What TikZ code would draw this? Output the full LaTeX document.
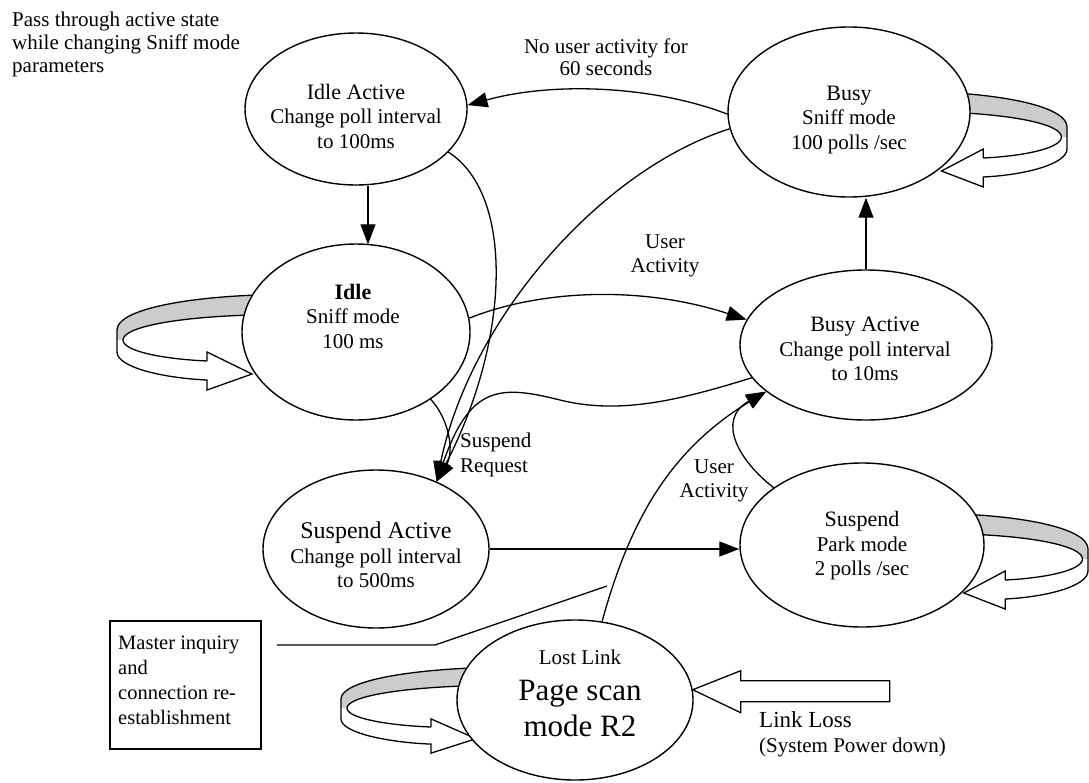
\documentclass[tikz,border=0pt]{standalone}
\usepackage{fontspec}
\setmainfont{Liberation Serif}
\usetikzlibrary{shapes.geometric,arrows.meta,calc}
\newcommand\bodyfs{\fontsize{21}{24.5}\selectfont}
\newcommand\titlefs{\fontsize{22}{24.5}\selectfont}
\newcommand\bigtitlefs{\fontsize{24}{24.5}\selectfont}
\newcommand\pagefs{\fontsize{31}{36}\selectfont}
\newcommand\lossfs{\fontsize{23}{26}\selectfont}
\newcommand\boxfs{\fontsize{20.5}{25}\selectfont}

\begin{document}
\begin{tikzpicture}[x=1pt,y=-1pt,
  state/.style={draw, ellipse, line width=1.4pt, fill=white, inner sep=0pt},
  txt/.style={font=\bodyfs, align=center, inner sep=0pt},
  ltxt/.style={font=\bodyfs, align=left, inner sep=0pt},
  con/.style={line width=1.3pt},
  arr/.style={con, -{Triangle[length=20pt,width=15pt]}},
  band/.style={line width=1.3pt, line join=miter},
  loopband/.pic={
    % grey inner face of the ribbon
    \fill[gray!40] (0,-11) .. controls (0,-30) and (60,-43) .. (140,-46)
      -- (135,-26) .. controls (60,-24) and (6,-14) .. (6,-1) -- (0,-1) -- cycle;
    % outer edge
    \draw[band] (0,11) -- (0,-11) .. controls (0,-30) and (60,-43) .. (140,-46);
    % inner edge running into the upper edge of the shaft
    \draw[band] (135,-26) .. controls (60,-24) and (6,-14) .. (6,-1)
      .. controls (6,10) and (45,18) .. (90,20);
    % lower edge of the shaft and the arrow head
    \draw[band] (0,11) .. controls (0,26) and (45,37) .. (90,39)
      -- (90,49) -- (135,33) -- (90,11) -- (90,20);
  }
]
\useasboundingbox[fill=white] (0,0) rectangle (1089,782);

% self-loops (drawn first, the states cover their ends)
\pic at (117,341) {loopband};
\pic[xscale=-0.93] at (1067,138) {loopband};
\pic[xscale=-0.92] at (1088,560) {loopband};
\pic[yscale=0.9] at (341,709) {loopband};

% states
\node[state, minimum width=222pt, minimum height=152pt] (IA) at (356,109) {};
\node[state, minimum width=228pt, minimum height=176pt] (ID) at (356,332) {};
\node[state, minimum width=242pt, minimum height=170pt] (BU) at (849,112) {};
\node[state, minimum width=252pt, minimum height=150pt] (BA) at (866,345) {};
\node[state, minimum width=226pt, minimum height=158pt] (SA) at (376,549) {};
\node[state, minimum width=244pt, minimum height=164pt] (SU) at (862,545) {};
\node[state, minimum width=236pt, minimum height=160pt] (LL) at (575,700) {};

% state texts
\node[txt] (tIA) at (356,116) {{\titlefs Idle Active}\\Change poll interval\\to 100ms};
\node[txt] (tID) at (353,316) {{\titlefs\bfseries Idle}\\Sniff mode\\100 ms};
\node[txt] (tBU) at (849,120) {{\titlefs Busy}\\Sniff mode\\100 polls /sec};
\node[txt] (tBA) at (865,349) {{\titlefs Busy Active}\\Change poll interval\\to 10ms};
\node[txt] (tSA) at (376,555) {{\bigtitlefs Suspend Active}\\Change poll interval\\to 500ms};
\node[txt] (tSU) at (862,546) {{\titlefs Suspend}\\Park mode\\2 polls /sec};
\node[txt, font=\pagefs] (tLL) at (580,693) {{\fontsize{21}{24}\selectfont Lost Link}\\Page scan\\mode R2};

% free texts
\node[ltxt, anchor=north west, font=\fontsize{21}{23}\selectfont] (note) at (12,12)
  {Pass through active state\\while changing Sniff mode\\parameters};
\node[draw, line width=1.2pt, minimum width=151pt, minimum height=128pt] (box) at (185.5,685) {};
\node[ltxt, anchor=north west, font=\boxfs] (boxtext) at (118,636)
  {Master inquiry\\and\\connection re-\\establishment};

% transitions
\draw[arr] (BU.181) .. controls (660,88) and (560,80) .. (IA.2);
\node[txt, font=\fontsize{21}{22}\selectfont] (lNo) at (606,57) {No user activity for\\60 seconds};

\draw[arr] ($(IA.south)+(12,0)$) -- ($(ID.north)+(12,1)$);
\draw[arr] (BA.north) -- (BA.north |- BU.south);

\draw[arr] (ID.7) .. controls (540,290) and (640,285) .. (BA.168);
\node[txt] (lUA1) at (665,256) {User\\Activity};

\draw[arr] (IA.-25) .. controls (515,195) and (510,340) .. (SA.48);
\draw[arr] (BU.188) .. controls (600,170) and (470,320) .. (SA.48);
\draw[arr] (ID.-42) .. controls (448,418) and (455,450) .. (SA.48);
\draw[arr] (BA.196) .. controls (680,400) and (620,415) .. (560,400)
  .. controls (500,385) and (470,385) .. (SA.48);
\node[ltxt, anchor=west] (lSR) at (460,455) {Suspend\\Request};

\draw[arr] (SA.east) -- (SA.east -| SU.west);

\draw[arr] (SU.147) .. controls (740,462) and (715,420) .. (BA.205);
\draw[arr] (LL.71) .. controls (630,520) and (670,450) .. (BA.205);
\node[txt] (lUA2) at (714,481) {User\\Activity};

% callout from the box
\coordinate (c1) at (277,645);
\coordinate (c2) at (435,645);
\coordinate (c3) at (607,586);
\draw[con] (c1) -- (c2) -- (c3);

% link loss block arrow
\draw[band, fill=white] (LL.5) -- ++(48,-19) -- ++(0,10) -- ++(149,0) -- ++(0,21)
  -- ++(-149,0) -- ++(0,11) -- cycle;
\node[ltxt, anchor=west, font=\lossfs] (lLL) at (759,720) {Link Loss};
\node[ltxt, anchor=west] (lPD) at (759,747) {(System Power down)};
\end{tikzpicture}
\end{document}
